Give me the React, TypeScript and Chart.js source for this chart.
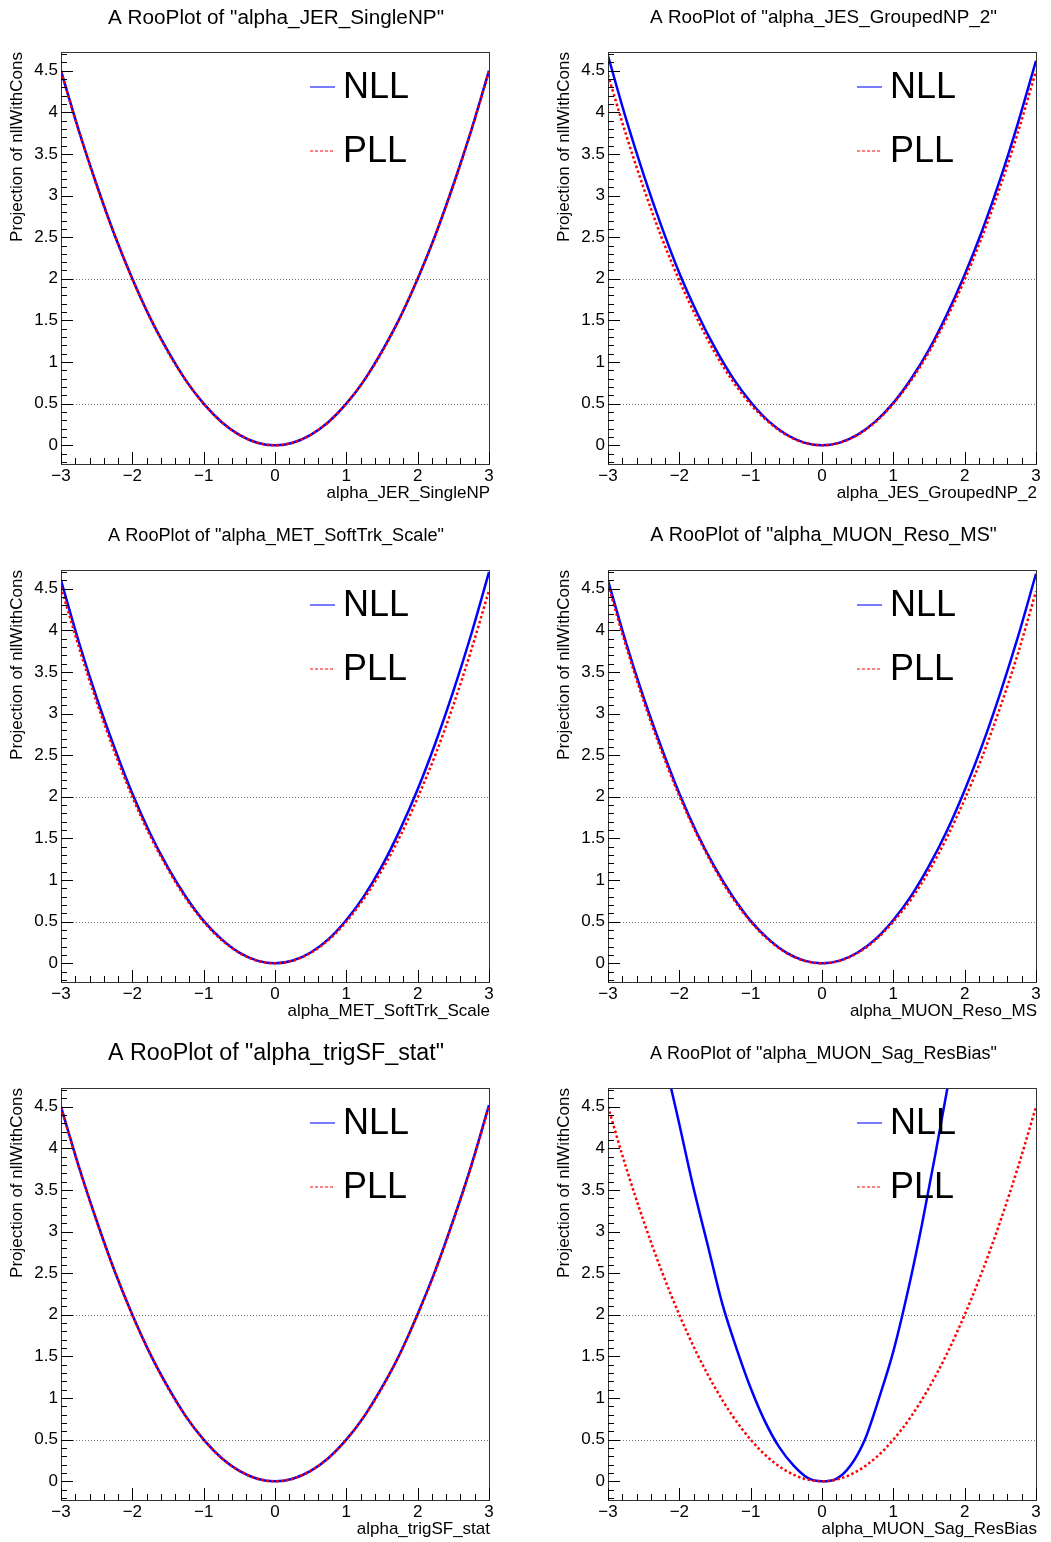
import React, { useEffect, useRef } from 'react';
import { Chart, registerables } from 'chart.js';

Chart.register(...registerables);

const FONT = '"Liberation Sans", Arial, Helvetica, sans-serif';

// ---- data ----
const xGrid = [-3, -2.75, -2.5, -2.25, -2, -1.75, -1.5, -1.25, -1, -0.75, -0.5, -0.25, 0, 0.25, 0.5, 0.75, 1, 1.25, 1.5, 1.75, 2, 2.25, 2.5, 2.75, 3];

const jerNLL = [4.5, 3.78, 3.13, 2.53, 2.0, 1.53, 1.13, 0.78, 0.5, 0.28, 0.125, 0.031, 0, 0.031, 0.125, 0.28, 0.5, 0.78, 1.13, 1.53, 2.0, 2.53, 3.13, 3.78, 4.5];
const jerPLL = [4.49, 3.78, 3.12, 2.53, 2.0, 1.53, 1.12, 0.78, 0.5, 0.28, 0.125, 0.031, 0, 0.031, 0.125, 0.28, 0.5, 0.78, 1.12, 1.53, 2.0, 2.53, 3.12, 3.78, 4.49];

const jesNLL = [4.68, 3.93, 3.25, 2.63, 2.07, 1.59, 1.17, 0.81, 0.52, 0.29, 0.13, 0.032, 0, 0.032, 0.128, 0.287, 0.51, 0.8, 1.15, 1.57, 2.05, 2.59, 3.2, 3.88, 4.62];
const jesPLL = [4.45, 3.74, 3.09, 2.5, 1.98, 1.52, 1.11, 0.77, 0.49, 0.28, 0.124, 0.031, 0, 0.031, 0.125, 0.28, 0.5, 0.78, 1.12, 1.53, 1.99, 2.52, 3.11, 3.77, 4.5];

const metNLL = [4.6, 3.86, 3.19, 2.59, 2.04, 1.56, 1.15, 0.8, 0.51, 0.29, 0.128, 0.032, 0, 0.033, 0.13, 0.29, 0.52, 0.81, 1.17, 1.6, 2.09, 2.65, 3.27, 3.95, 4.7];
const metPLL = [4.52, 3.8, 3.14, 2.54, 2.0, 1.53, 1.13, 0.78, 0.5, 0.28, 0.125, 0.031, 0, 0.031, 0.125, 0.28, 0.5, 0.78, 1.12, 1.52, 1.99, 2.51, 3.1, 3.76, 4.48];

const resoNLL = [4.6, 3.86, 3.19, 2.59, 2.04, 1.56, 1.15, 0.8, 0.51, 0.29, 0.128, 0.032, 0, 0.032, 0.13, 0.29, 0.52, 0.81, 1.17, 1.59, 2.08, 2.63, 3.25, 3.93, 4.68];
const resoPLL = [4.55, 3.82, 3.15, 2.55, 2.01, 1.54, 1.13, 0.78, 0.5, 0.28, 0.125, 0.031, 0, 0.031, 0.124, 0.28, 0.5, 0.77, 1.11, 1.51, 1.97, 2.49, 3.08, 3.73, 4.47];

const trigNLL = [4.5, 3.78, 3.13, 2.53, 2.0, 1.53, 1.13, 0.78, 0.5, 0.28, 0.125, 0.031, 0, 0.031, 0.125, 0.28, 0.5, 0.78, 1.13, 1.53, 2.01, 2.54, 3.14, 3.79, 4.52];
const trigPLL = [4.49, 3.78, 3.12, 2.53, 2.0, 1.53, 1.12, 0.78, 0.5, 0.28, 0.125, 0.031, 0, 0.031, 0.125, 0.28, 0.5, 0.78, 1.12, 1.53, 2.0, 2.53, 3.13, 3.78, 4.5];

const sagX = [-2.4, -2.2, -2.0, -1.8, -1.6, -1.4, -1.2, -1.0, -0.8, -0.6, -0.4, -0.2, 0, 0.2, 0.4, 0.6, 0.8, 1.0, 1.2, 1.4, 1.6, 1.8, 2.0];
const sagNLL = [5.9, 5.05, 4.29, 3.52, 2.83, 2.14, 1.6, 1.12, 0.72, 0.41, 0.19, 0.04, 0, 0.03, 0.19, 0.5, 1.0, 1.56, 2.27, 3.08, 3.98, 4.92, 5.9];
const sagPLL = [4.5, 3.78, 3.125, 2.53, 2.0, 1.53, 1.125, 0.78, 0.5, 0.28, 0.125, 0.031, 0, 0.031, 0.125, 0.28, 0.5, 0.78, 1.125, 1.53, 2.0, 2.53, 3.125, 3.78, 4.5];

const xTickValues = [-3, -2, -1, 0, 1, 2, 3];
const xTickLabels = ['\u22123', '\u22122', '\u22121', '0', '1', '2', '3'];
const yTickValues = [0, 0.5, 1, 1.5, 2, 2.5, 3, 3.5, 4, 4.5];
const yTickLabels = ['0', '0.5', '1', '1.5', '2', '2.5', '3', '3.5', '4', '4.5'];
const refLines = [0.5, 2];
const legendLabels = ['NLL', 'PLL'];
const yTitle = 'Projection of nllWithCons';
const X_MIN = -3, X_MAX = 3, Y_MIN = -0.225, Y_MAX = 4.725;

type Panel = {
  name: string;
  col: number;
  row: number;
  nllX: number[];
  nll: number[];
  pllX: number[];
  pll: number[];
};

const panels: Panel[] = [
  { name: 'alpha_JER_SingleNP', col: 0, row: 0, nllX: xGrid, nll: jerNLL, pllX: xGrid, pll: jerPLL },
  { name: 'alpha_JES_GroupedNP_2', col: 1, row: 0, nllX: xGrid, nll: jesNLL, pllX: xGrid, pll: jesPLL },
  { name: 'alpha_MET_SoftTrk_Scale', col: 0, row: 1, nllX: xGrid, nll: metNLL, pllX: xGrid, pll: metPLL },
  { name: 'alpha_MUON_Reso_MS', col: 1, row: 1, nllX: xGrid, nll: resoNLL, pllX: xGrid, pll: resoPLL },
  { name: 'alpha_trigSF_stat', col: 0, row: 2, nllX: xGrid, nll: trigNLL, pllX: xGrid, pll: trigPLL },
  { name: 'alpha_MUON_Sag_ResBias', col: 1, row: 2, nllX: sagX, nll: sagNLL, pllX: xGrid, pll: sagPLL },
];

function geom(p: Panel) {
  const W = p.col === 0 ? 525 : 526;
  const H = p.row === 2 ? 506 : 518;
  const left = p.col === 0 ? 0 : 525;
  const top = p.row * 518;
  const plotL = p.col === 0 ? 61 : 83;
  const plotR = p.col === 0 ? 489 : 511;
  const plotT = 52;
  const plotB = 464;
  const titleW = p.col === 0 ? 336 : 347;
  const titleCx = p.col === 0 ? 276 : 298.5;
  return { W, H, left, top, plotL, plotR, plotT, plotB, titleW, titleCx };
}

function makePlugin(p: Panel) {
  const g = geom(p);
  return {
    id: 'rooFrame',
    beforeDatasetsDraw(chart: any) {
      const ctx = chart.ctx;
      const ys = chart.scales.y;
      const a = chart.chartArea;
      ctx.save();
      ctx.strokeStyle = '#777777';
      ctx.lineWidth = 1;
      ctx.setLineDash([1, 2]);
      refLines.forEach((v) => {
        const y = Math.round(ys.getPixelForValue(v)) + 0.5;
        ctx.beginPath();
        ctx.moveTo(a.left, y);
        ctx.lineTo(a.right, y);
        ctx.stroke();
      });
      ctx.restore();
    },
    afterDatasetsDraw(chart: any) {
      const ctx = chart.ctx;
      const xs = chart.scales.x;
      const ys = chart.scales.y;
      const a = chart.chartArea;
      ctx.save();
      // frame
      ctx.strokeStyle = '#333333';
      ctx.lineWidth = 1;
      ctx.setLineDash([]);
      ctx.strokeRect(a.left + 0.5, a.top + 0.5, a.right - a.left, a.bottom - a.top);
      // x ticks
      ctx.strokeStyle = '#000000';
      ctx.beginPath();
      for (let i = -15; i <= 15; i++) {
        const v = i / 5;
        const x = Math.round(xs.getPixelForValue(v)) + 0.5;
        const len = i % 5 === 0 ? 12 : 6;
        ctx.moveTo(x, a.bottom);
        ctx.lineTo(x, a.bottom - len);
      }
      // y ticks
      for (let i = -2; i <= 47; i++) {
        const v = i / 10;
        const y = Math.round(ys.getPixelForValue(v)) + 0.5;
        const len = i % 5 === 0 ? 12 : 6;
        ctx.moveTo(a.left, y);
        ctx.lineTo(a.left + len, y);
      }
      ctx.stroke();
      // tick labels
      ctx.fillStyle = '#000000';
      ctx.font = `17px ${FONT}`;
      ctx.textAlign = 'center';
      ctx.textBaseline = 'middle';
      xTickValues.forEach((v, i) => {
        ctx.fillText(xTickLabels[i], xs.getPixelForValue(v), a.bottom + 12);
      });
      ctx.textAlign = 'right';
      yTickValues.forEach((v, i) => {
        ctx.fillText(yTickLabels[i], a.left - 3, ys.getPixelForValue(v));
      });
      // x title
      ctx.fillText(p.name, a.right + 1, a.bottom + 29);
      // y title
      ctx.save();
      ctx.translate(a.left - 44, a.top);
      ctx.rotate(-Math.PI / 2);
      ctx.textAlign = 'right';
      ctx.fillText(yTitle, 0, 0);
      ctx.restore();
      // title
      const title = `A RooPlot of "${p.name}"`;
      ctx.font = `20px ${FONT}`;
      const w20 = ctx.measureText(title).width;
      const fs = (20 * g.titleW) / w20;
      ctx.font = `${fs.toFixed(2)}px ${FONT}`;
      ctx.textAlign = 'center';
      ctx.fillText(title, g.titleCx, 18);
      // legend
      const lx0 = a.left + 249;
      const lx1 = a.left + 274;
      const tx = a.left + 282;
      const ly = [a.top + 35, a.top + 99];
      ctx.lineWidth = 1.2;
      ctx.strokeStyle = '#2020ff';
      ctx.setLineDash([]);
      ctx.beginPath();
      ctx.moveTo(lx0, ly[0]);
      ctx.lineTo(lx1, ly[0]);
      ctx.stroke();
      ctx.strokeStyle = '#ff0000';
      ctx.setLineDash([3, 2]);
      ctx.beginPath();
      ctx.moveTo(lx0, ly[1]);
      ctx.lineTo(lx1, ly[1]);
      ctx.stroke();
      ctx.setLineDash([]);
      ctx.font = `36px ${FONT}`;
      ctx.textAlign = 'left';
      ctx.fillStyle = '#000000';
      legendLabels.forEach((t, i) => ctx.fillText(t, tx, ly[i] + 1));
      ctx.restore();
    },
  };
}

function PanelChart({ panel }: { panel: Panel }) {
  const ref = useRef<HTMLCanvasElement>(null);
  const g = geom(panel);
  useEffect(() => {
    const canvas = ref.current;
    if (!canvas) return;
    const chart = new Chart(canvas, {
      type: 'line',
      data: {
        datasets: [
          {
            label: legendLabels[0],
            data: panel.nllX.map((x, i) => ({ x, y: panel.nll[i] })),
            borderColor: '#0000ff',
            borderWidth: 2.5,
            pointRadius: 0,
            fill: false,
            order: 2,
            cubicInterpolationMode: 'monotone',
          },
          {
            label: legendLabels[1],
            data: panel.pllX.map((x, i) => ({ x, y: panel.pll[i] })),
            borderColor: '#ff0000',
            borderWidth: 2.5,
            borderDash: [2.5, 2.5],
            pointRadius: 0,
            fill: false,
            order: 1,
            cubicInterpolationMode: 'monotone',
          },
        ],
      },
      options: {
        responsive: false,
        animation: false,
        devicePixelRatio: 1,
        events: [],
        layout: {
          padding: { left: g.plotL, right: g.W - g.plotR, top: g.plotT, bottom: g.H - g.plotB },
        },
        scales: {
          x: { type: 'linear', min: X_MIN, max: X_MAX, display: false },
          y: { type: 'linear', min: Y_MIN, max: Y_MAX, display: false },
        },
        plugins: {
          legend: { display: false },
          title: { display: false },
          tooltip: { enabled: false },
        },
      },
      plugins: [makePlugin(panel)],
    } as any);
    return () => chart.destroy();
  }, []);
  return (
    <canvas
      ref={ref}
      width={g.W}
      height={g.H}
      style={{ position: 'absolute', left: g.left, top: g.top, width: g.W, height: g.H }}
    />
  );
}

export default function App() {
  return (
    <div style={{ position: 'absolute', left: 0, top: 0, width: 1051, height: 1542, background: '#ffffff' }}>
      {panels.map((p) => (
        <PanelChart key={p.name} panel={p} />
      ))}
    </div>
  );
}
